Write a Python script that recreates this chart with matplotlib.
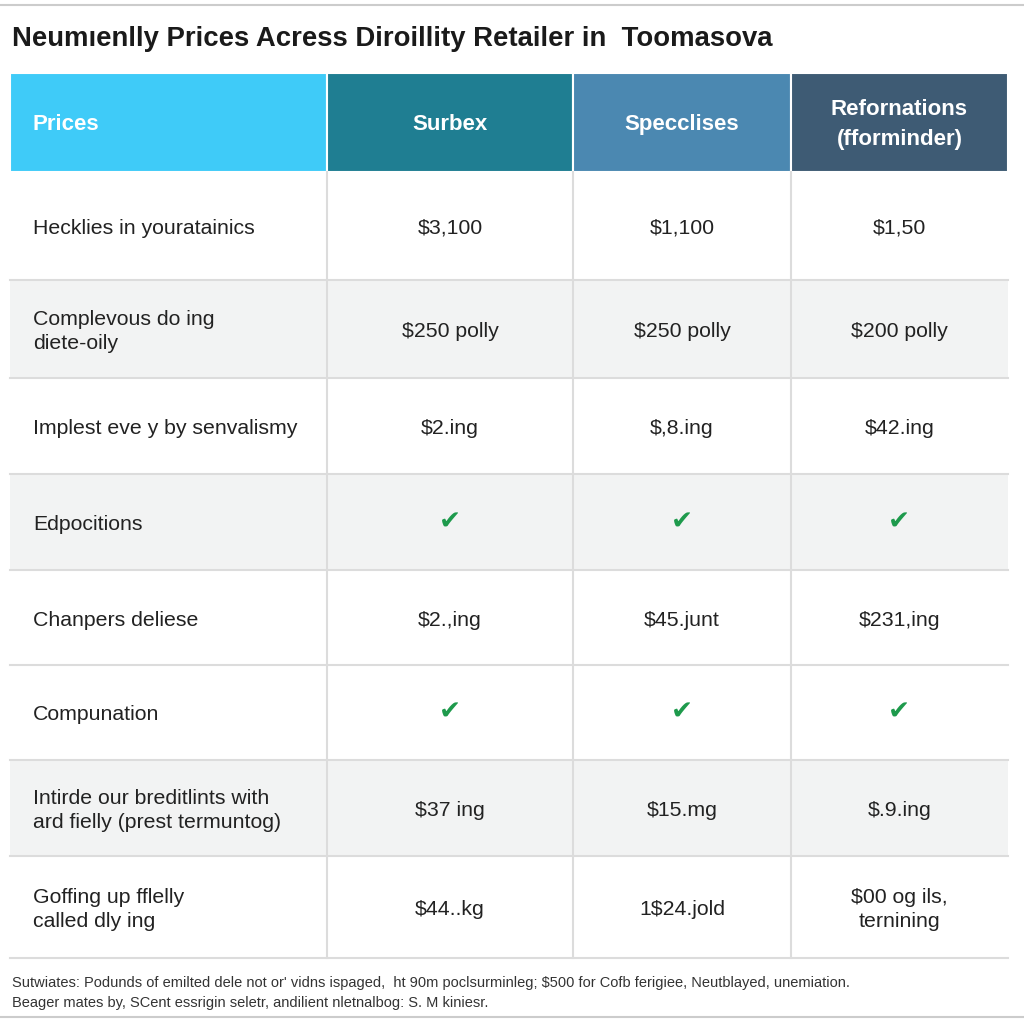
import matplotlib
matplotlib.use("Agg")
import matplotlib.pyplot as plt
from matplotlib.patches import Rectangle

plt.rcParams["font.family"] = ["Liberation Sans", "DejaVu Sans"]

TITLE = "Neumıenlly Prices Acress Diroillity Retailer in  Toomasova"

HEADERS = ["Prices", "Surbex", "Specclises", "Refornations\n(fforminder)"]
HEADER_COLORS = ["#3fcbf8", "#1f7e92", "#4b88b1", "#3e5b74"]

ROW_LABELS = [
    "Hecklies in youratainics",
    "Complevous do ing\ndiete-oily",
    "Implest eve y by senvalismy",
    "Edpocitions",
    "Chanpers deliese",
    "Compunation",
    "Intirde our breditlints with\nard fielly (prest termuntog)",
    "Goffing up fflelly\ncalled dly ing",
]
SURBEX = ["$3,100", "$250 polly", "$2.ing", "CHECK", "$2.,ing", "CHECK", "$37 ing", "$44..kg"]
SPECCLISES = ["$1,100", "$250 polly", "$,8.ing", "CHECK", "$45.junt", "CHECK", "$15.mg", "1$24.jold"]
REFORNATIONS = ["$1,50", "$200 polly", "$42.ing", "CHECK", "$231,ing", "CHECK", "$.9.ing", "$00 og ils,\nternining"]
ROW_SHADED = [False, True, False, True, False, False, True, False]

FOOTNOTE = ("Sutwiates: Podunds of emilted dele not or' vidns ispaged,  ht 90m poclsurminleg; "
            "$500 for Cofb ferigiee, Neutblayed, unemiation.\n"
            "Beager mates by, SCent essrigin seletr, andilient nletnalbog: S. M kiniesr.")

# layout in pixels
COL_EDGES = [10, 327, 573, 791, 1008]
HEADER_TOP, HEADER_BOT = 73, 172
ROW_EDGES = [172, 280, 378, 474, 570, 665, 760, 856, 958]

fig = plt.figure(figsize=(10.24, 10.24), dpi=100)
ax = fig.add_axes([0, 0, 1, 1])
ax.set_xlim(0, 1024)
ax.set_ylim(1024, 0)
ax.axis("off")

ax.axhline(5, color="#cccccc", linewidth=1.5)
ax.axhline(1017, color="#cccccc", linewidth=1.5)

ax.text(12, 39, TITLE, fontsize=19.8, fontweight="bold", color="#1a1a1a",
        va="center", ha="left")

# header
for i, (h, c) in enumerate(zip(HEADERS, HEADER_COLORS)):
    x0, x1 = COL_EDGES[i], COL_EDGES[i + 1]
    ax.add_patch(Rectangle((x0, HEADER_TOP), x1 - x0, HEADER_BOT - HEADER_TOP,
                           facecolor=c, edgecolor="white", linewidth=1.5))
    yc = (HEADER_TOP + HEADER_BOT) / 2 + 2
    if i == 0:
        ax.text(x0 + 22, yc, h, color="white", fontsize=16, fontweight="bold",
                va="center", ha="left")
    else:
        ax.text((x0 + x1) / 2, yc, h, color="white", fontsize=16, fontweight="bold",
                va="center", ha="center", linespacing=1.6)

# body
columns = [ROW_LABELS, SURBEX, SPECCLISES, REFORNATIONS]
for r in range(len(ROW_LABELS)):
    y0, y1 = ROW_EDGES[r], ROW_EDGES[r + 1]
    yc = (y0 + y1) / 2 + 2.5
    bg = "#f2f3f3" if ROW_SHADED[r] else "white"
    ax.add_patch(Rectangle((COL_EDGES[0], y0), COL_EDGES[-1] - COL_EDGES[0], y1 - y0,
                           facecolor=bg, edgecolor="none"))
    ax.plot([COL_EDGES[0], COL_EDGES[-1]], [y1, y1], color="#dcdcdc", linewidth=1.5)
    for ci, col in enumerate(columns):
        val = col[r]
        x0, x1 = COL_EDGES[ci], COL_EDGES[ci + 1]
        if ci == 0:
            ax.text(x0 + 23, yc, val, fontsize=15.3, color="#222222",
                    va="center", ha="left", linespacing=1.35)
        elif val == "CHECK":
            ax.text((x0 + x1) / 2, yc - 2, "\u2714", fontsize=19, color="#1e9a4c",
                    family="DejaVu Sans", va="center", ha="center")
        else:
            ax.text((x0 + x1) / 2, yc, val, fontsize=15.3, color="#222222",
                    va="center", ha="center", linespacing=1.35)

# vertical separators
for x in COL_EDGES[1:-1]:
    ax.plot([x, x], [HEADER_BOT, ROW_EDGES[-1]], color="#dcdcdc", linewidth=1.5)

ax.text(12, 993, FOOTNOTE, fontsize=10.5, color="#333333",
        va="center", ha="left", linespacing=1.5)

fig.savefig("out.png", dpi=100)
